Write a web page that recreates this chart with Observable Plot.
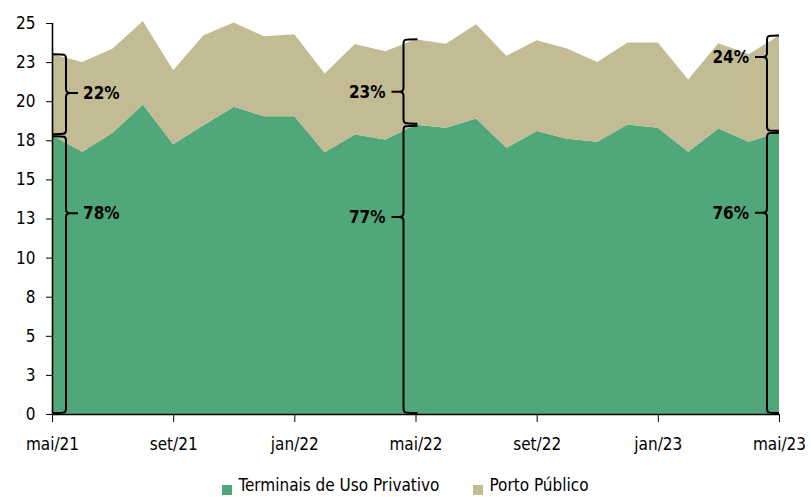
<!DOCTYPE html>
<html><head><meta charset="utf-8">
<script src="https://cdn.jsdelivr.net/npm/d3@7"></script>
<script src="https://cdn.jsdelivr.net/npm/@observablehq/plot@0.6"></script>
<style>
html,body{margin:0;padding:0;background:#fff}
body{width:811px;height:497px;overflow:hidden;position:relative;font-family:"DejaVu Sans Condensed","DejaVu Sans",sans-serif;font-stretch:condensed}
#legend{position:absolute;left:0;top:475px;width:811px;text-align:center;font-size:17px;line-height:20px;color:#000;white-space:nowrap}
.sw{display:inline-block;width:10px;height:10px;vertical-align:-4px;margin-right:6px}
.item{display:inline-block;margin:0 17px}
</style></head><body>
<div id="chart"></div>
<div id="legend"></div>
<script>
// ---- data ----
const months = ["mai/21","jun/21","jul/21","ago/21","set/21","out/21","nov/21","dez/21","jan/22","fev/22","mar/22","abr/22",
  "mai/22","jun/22","jul/22","ago/22","set/22","out/22","nov/22","dez/22","jan/23","fev/23","mar/23","abr/23","mai/23"];
const series = ["Terminais de Uso Privativo","Porto Público"];
const tup   = [17.83,16.76,17.98,19.79,17.25,18.47,19.64,19.04,19.04,16.74,17.87,17.55,
               18.50,18.30,18.89,17.02,18.10,17.60,17.40,18.51,18.30,16.76,18.25,17.40,18.04];
const porto = [5.17,5.75,5.39,5.34,4.73,5.75,5.39,5.11,5.24,5.03,5.79,5.65,
               5.46,5.38,6.03,5.88,5.80,5.77,5.11,5.24,5.45,4.62,5.45,5.60,6.16];
const xTicks = [0,4,8,12,16,20,24];
const yTicks = [0,2.5,5,7.5,10,12.5,15,17.5,20,22.5,25];
const yTickLabels = ["0","3","5","8","10","13","15","18","20","23","25"];
const bracketIdx = [0,12,24];
const shareTup = ["78%","77%","76%"];
const sharePorto = ["22%","23%","24%"];
const colors = ["#50a77a","#c3bb94"];

// ---- build ----
const rows = [];
months.forEach((m,i)=>{
  rows.push({i, serie:series[0], v:tup[i]});
  rows.push({i, serie:series[1], v:porto[i]});
});
const FONT = '"DejaVu Sans Condensed","DejaVu Sans",sans-serif';
const plot = Plot.plot({
  width:811, height:470,
  marginLeft:52, marginRight:32, marginTop:23, marginBottom:56,
  style:{fontFamily:FONT, fontSize:"17px", color:"#000", background:"#fff", overflow:"visible"},
  x:{type:"linear", domain:[0,24], ticks:xTicks, tickFormat:d=>months[d], tickSize:8, tickPadding:15, label:null},
  y:{domain:[0,25], ticks:yTicks, tickFormat:d=>yTickLabels[yTicks.indexOf(d)], tickSize:6, tickPadding:11, label:null},
  color:{domain:series, range:colors},
  marks:[
    Plot.areaY(rows,{x:"i", y:"v", fill:"serie"}),
    Plot.ruleX([0],{stroke:"#000", strokeWidth:1.6}),
    Plot.ruleY([0],{stroke:"#000", strokeWidth:1.6})
  ]
});
document.getElementById("chart").appendChild(plot);

// ---- brackets / annotations via the plot's scales ----
const sx = plot.scale("x"), sy = plot.scale("y");
const X = v=>sx.apply(v), Y = v=>sy.apply(v);
const svg = d3.select(plot);
const g = svg.append("g").attr("fill","none").attr("stroke","#000").attr("stroke-width",2);
const tg = svg.append("g").attr("font-family",FONT).attr("font-size",17).attr("font-weight","bold").attr("fill","#000");
function brace(xTip, xSp, xNub, y1, y2, yn){
  const s = Math.sign(xNub - xSp);
  return `M${xTip},${y1} C${xSp},${y1} ${xSp},${y1} ${xSp},${y1+5} L${xSp},${yn-4} Q${xSp},${yn} ${xSp+s*4},${yn} L${xNub},${yn} `+
         `M${xSp+s*4},${yn} Q${xSp},${yn} ${xSp},${yn+4} L${xSp},${y2-5} C${xSp},${y2} ${xSp},${y2} ${xTip},${y2}`;
}
// annotation layout (value levels where each brace's point sits)
const NUB_UPPER = [20.53, 20.6, 22.83];
const NUB_LOWER = [12.84, 12.59, 12.86];
bracketIdx.forEach((idx,k)=>{
  const x0 = X(idx);
  const yTot = Y(tup[idx]+porto[idx]), yMid = Y(tup[idx]), yBot = Y(0);
  const yNubU = Y(NUB_UPPER[k]), yNubL = Y(NUB_LOWER[k]);
  let xTip, xSp, xNub, tx, anchor;
  if (k===0){ xTip=x0+1; xSp=x0+14; xNub=x0+26; tx=x0+31; anchor="start"; }
  else { xTip=x0+(k===2?0:2); xSp=x0-12; xNub=x0-24; tx=x0-30; anchor="end"; }
  g.append("path").attr("d",brace(xTip,xSp,xNub,yTot,yMid-1,yNubU));
  g.append("path").attr("d",brace(xTip,xSp,xNub,yMid+1,yBot-1,yNubL));
  tg.append("text").attr("x",tx).attr("y",yNubU).attr("dy","0.35em").attr("text-anchor",anchor).text(sharePorto[k]);
  tg.append("text").attr("x",tx).attr("y",yNubL).attr("dy","0.35em").attr("text-anchor",anchor).text(shareTup[k]);
});

// ---- legend ----
const lg = document.getElementById("legend");
series.forEach((s,i)=>{
  const it = document.createElement("span"); it.className="item";
  const sw = document.createElement("span"); sw.className="sw"; sw.style.background=colors[i];
  it.appendChild(sw); it.appendChild(document.createTextNode(s));
  lg.appendChild(it);
});
</script>
</body></html>
